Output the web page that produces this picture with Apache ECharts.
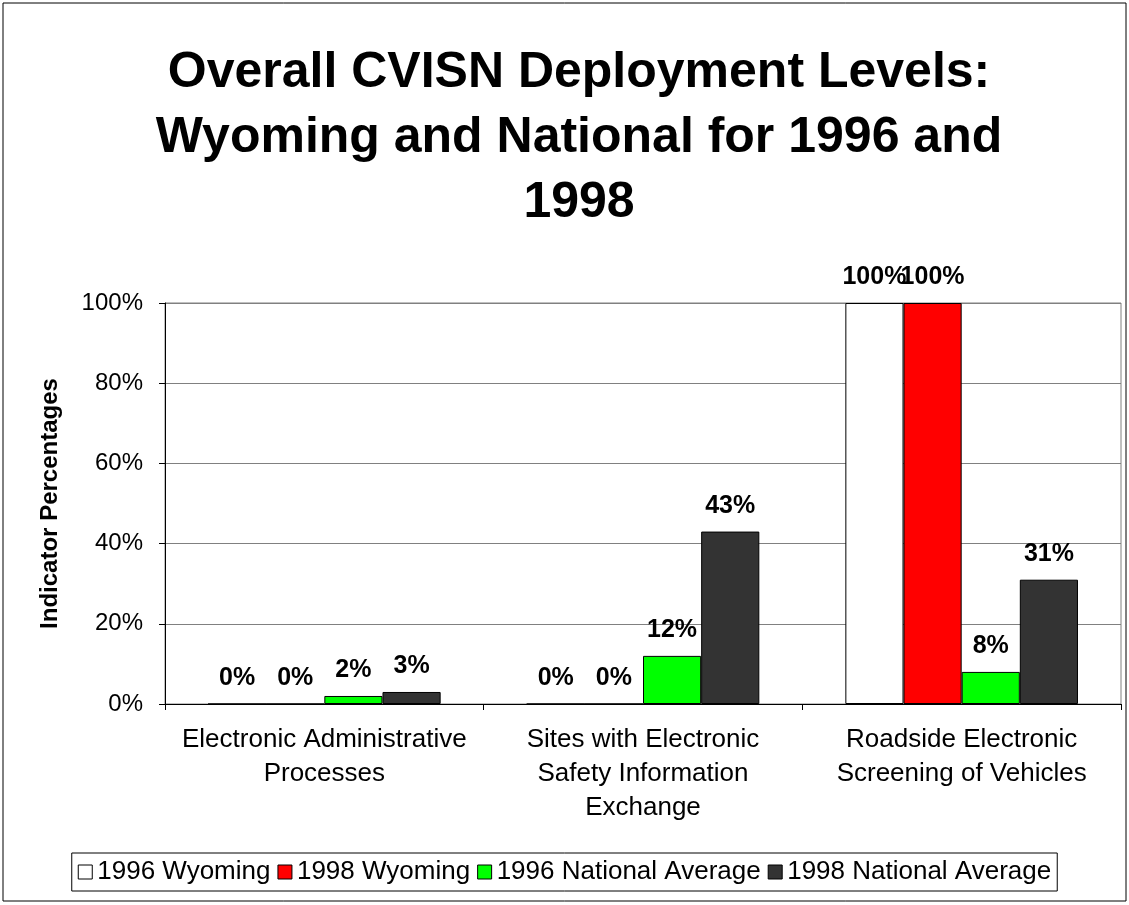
<!DOCTYPE html>
<html>
<head>
<meta charset="utf-8">
<script src="https://cdn.jsdelivr.net/npm/echarts@6/dist/echarts.min.js"></script>
<style>
  html, body { margin: 0; padding: 0; background: #fff; }
  #chart { width: 1129px; height: 905px; }
</style>
</head>
<body>
<div id="chart"></div>
<script>
  var categories = [
    'Electronic Administrative\nProcesses',
    'Sites with Electronic\nSafety Information\nExchange',
    'Roadside Electronic\nScreening of Vehicles'
  ]
  var seriesNames = ['1996 Wyoming', '1998 Wyoming', '1996 National Average', '1998 National Average']
  var wyoming1996 = [0, 0, 100]
  var wyoming1998 = [0, 0, 100]
  var national1996 = [2, 12, 8]
  var national1998 = [3, 43, 31]
  var colors = ['#ffffff', '#ff0000', '#00ff00', '#333333']
  var yTicks = [0, 20, 40, 60, 80, 100]

  var font = 'Liberation Sans, Arial, sans-serif'
  var chart = echarts.init(document.getElementById('chart'))

  var allData = [wyoming1996, wyoming1998, national1996, national1998]
  var series = []
  for (var i = 0; i < allData.length; i++) {
    series.push({
      name: seriesNames[i],
      type: 'bar',
      data: allData[i],
      barGap: 0,
      barCategoryGap: '27%',
      itemStyle: { color: colors[i], borderColor: '#000', borderWidth: 1 },
      label: {
        show: true,
        position: 'top',
        distance: 13,
        formatter: '{c}%',
        color: '#000',
        fontFamily: font,
        fontWeight: 'bold',
        fontSize: 25
      }
    })
  }

  var option = {
    animation: false,
    backgroundColor: '#fff',
    graphic: [{
      type: 'rect',
      shape: { x: 3, y: 3, width: 1123, height: 898 },
      style: { fill: 'none', stroke: '#000', lineWidth: 1 },
      silent: true
    }],
    title: {
      text: 'Overall CVISN Deployment Levels:\nWyoming and National for 1996 and\n1998',
      left: 574,
      top: 36,
      textAlign: 'center',
      textStyle: {
        fontFamily: font,
        fontWeight: 'bold',
        fontSize: 50,
        lineHeight: 65,
        color: '#000'
      }
    },
    legend: {
      data: seriesNames,
      left: 'center',
      top: 853,
      itemWidth: 14,
      itemHeight: 14,
      itemGap: 7,
      padding: [6, 6, 6, 6],
      borderColor: '#000',
      borderWidth: 1,
      icon: 'rect',
      itemStyle: { borderColor: '#000', borderWidth: 1 },
      textStyle: { fontFamily: font, fontSize: 26, color: '#000' }
    },
    grid: { left: 165, right: 8, top: 303, bottom: 201, show: true, borderColor: '#808080', borderWidth: 1 },
    xAxis: {
      type: 'category',
      data: categories,
      axisLine: { lineStyle: { color: '#000', width: 1 } },
      axisTick: { show: true, length: 6, lineStyle: { color: '#000' } },
      axisLabel: {
        interval: 0,
        margin: 19,
        fontFamily: font,
        fontSize: 26,
        lineHeight: 34,
        color: '#000'
      }
    },
    yAxis: {
      type: 'value',
      min: yTicks[0],
      max: yTicks[yTicks.length - 1],
      interval: 20,
      name: 'Indicator Percentages',
      nameLocation: 'middle',
      nameGap: 103,
      nameTextStyle: { fontFamily: font, fontWeight: 'bold', fontSize: 24, color: '#000' },
      axisLine: { show: true, lineStyle: { color: '#000', width: 1 } },
      axisTick: { show: true, length: 6, lineStyle: { color: '#000' } },
      splitLine: { show: true, lineStyle: { color: '#808080', width: 1 } },
      axisLabel: {
        formatter: '{value}%',
        margin: 22,
        fontFamily: font,
        fontSize: 24,
        color: '#000'
      }
    },
    series: series
  }
  chart.setOption(option)
</script>
</body>
</html>
